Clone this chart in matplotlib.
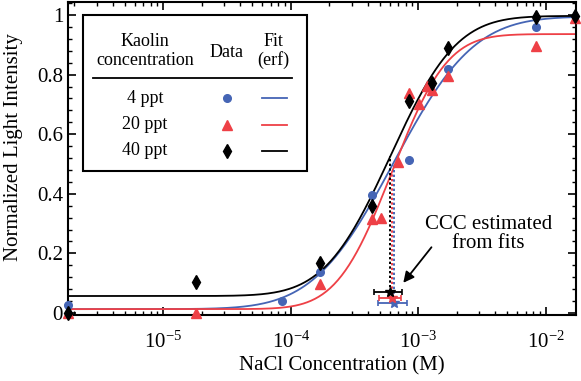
import math
import numpy as np
import matplotlib
matplotlib.use("Agg")
import matplotlib.pyplot as plt
from matplotlib.ticker import AutoMinorLocator, LogLocator
from matplotlib.patches import Rectangle
from matplotlib.lines import Line2D

plt.rcParams['font.family'] = ['Liberation Serif', 'DejaVu Serif']
plt.rcParams['mathtext.fontset'] = 'stix'

# data: NaCl concentration (M) vs normalized intensity
blue_x = [1.8e-6, 8.6e-5, 1.71e-4, 4.3e-4, 8.5e-4, 1.72e-3, 8.4e-3]
blue_y = [0.027, 0.041, 0.138, 0.396, 0.513, 0.819, 0.961]

red_x = [1.8e-6, 1.8e-5, 1.71e-4, 4.3e-4, 5.1e-4, 6.9e-4, 8.5e-4,
         1.02e-3, 1.18e-3, 1.29e-3, 1.72e-3, 8.4e-3, 1.7e-2]
red_y = [0.0, 0.0, 0.097, 0.314, 0.319, 0.508, 0.738,
         0.70, 0.762, 0.748, 0.795, 0.897, 0.99]

black_x = [1.8e-6, 1.8e-5, 1.71e-4, 4.3e-4, 8.5e-4, 1.29e-3, 1.72e-3, 8.4e-3, 1.7e-2]
black_y = [0.0, 0.104, 0.168, 0.359, 0.711, 0.773, 0.888, 0.994, 0.997]

# erf fit parameters (low plateau, high plateau, CCC, width in decades)
fit_lo = [0.013, 0.013, 0.057]
fit_hi = [0.995, 0.936, 0.997]
ccc = [6.4e-4, 6.23e-4, 6.05e-4]
fit_w = [0.70, 0.48, 0.575]

# CCC error bars and marker heights
ccc_err_lo = [4.81e-4, 4.96e-4, 4.53e-4]
ccc_err_hi = [8.17e-4, 7.33e-4, 7.46e-4]
ccc_y = [0.033, 0.051, 0.072]

labels = ['4 ppt', '20 ppt', '40 ppt']
colors = ['#4565b5', '#ee4046', 'black']
markers = ['o', '^', 'd']
msizes = [5.5, 7, 7.5]
xs = [blue_x, red_x, black_x]
ys = [blue_y, red_y, black_y]


def erf_fit(x, lo, hi, c, w):
    z = (np.log10(x) - math.log10(c)) / w
    return lo + (hi - lo) * 0.5 * (1 + np.array([math.erf(v) for v in np.atleast_1d(z)]))


fig = plt.figure(figsize=(5.81, 3.81), dpi=100)
ax = fig.add_axes([0.117, 0.173, 0.874, 0.822])

xx = np.logspace(np.log10(1.79e-6), np.log10(1.72e-2), 400)
for i in range(3):
    ax.plot(xx, erf_fit(xx, fit_lo[i], fit_hi[i], ccc[i], fit_w[i]),
            color=colors[i], lw=1.3, zorder=2)

for i in range(3):
    ax.plot(xs[i], ys[i], linestyle='none', marker=markers[i], ms=msizes[i],
            color=colors[i], clip_on=False, zorder=3)

# dotted lines from CCC markers up to the fit, then the CCC points
for i in [0, 1, 2]:
    top = erf_fit(ccc[i], fit_lo[i], fit_hi[i], ccc[i], fit_w[i])[0]
    ax.plot([ccc[i], ccc[i]], [ccc_y[i], top], color=colors[i], ls=(0, (1.2, 1.2)),
            lw=1.4, zorder=2)
for i in range(3):
    ax.errorbar([ccc[i]], [ccc_y[i]],
                xerr=[[ccc[i] - ccc_err_lo[i]], [ccc_err_hi[i] - ccc[i]]],
                fmt='*', ms=7, color=colors[i], ecolor=colors[i], elinewidth=1.3,
                capsize=2.5, capthick=1.2, zorder=4)

ax.annotate('', xy=(7.4e-4, 0.094), xytext=(1.31e-3, 0.228),
            arrowprops=dict(arrowstyle='-|>', color='k', lw=1.3, mutation_scale=16))
ax.text(3.55e-3, 0.265, 'CCC estimated\nfrom fits', ha='center', va='center',
        fontsize=15, linespacing=1.05)

ax.set_xscale('log')
ax.set_xlim(1.79e-6, 1.72e-2)
ax.set_ylim(-0.007, 1.044)
ax.set_yticks([0, 0.2, 0.4, 0.6, 0.8, 1.0])
ax.set_yticklabels(['0', '0.2', '0.4', '0.6', '0.8', '1'])
ax.set_xticks([1e-5, 1e-4, 1e-3, 1e-2])
ax.xaxis.set_minor_locator(LogLocator(base=10, subs=np.arange(2, 10)))
ax.yaxis.set_minor_locator(AutoMinorLocator(5))
ax.tick_params(which='both', direction='in', top=True, right=True, labelsize=15)
ax.tick_params(which='major', length=6, width=1.2)
ax.tick_params(which='minor', length=3, width=1.0)
ax.tick_params(axis='x', pad=12)
for s in ax.spines.values():
    s.set_linewidth(1.5)

ax.set_xlabel('NaCl Concentration (M)', fontsize=15)
ax.xaxis.set_label_coords(0.54, -0.13)
ax.set_ylabel('Normalized Light Intensity', fontsize=15)
ax.yaxis.set_label_coords(-0.088, 0.535)

# table-style legend
ax.add_patch(Rectangle((0.029, 0.46), 0.441, 0.498, transform=ax.transAxes,
                       facecolor='white', edgecolor='black', lw=1.5, zorder=5))
ax.add_line(Line2D([0.049, 0.441], [0.757, 0.757], transform=ax.transAxes,
                   color='black', lw=1.3, zorder=6))
ax.text(0.152, 0.843, 'Kaolin\nconcentration', transform=ax.transAxes, ha='center',
        va='center', fontsize=13, linespacing=1.1, zorder=6)
ax.text(0.313, 0.84, 'Data', transform=ax.transAxes, ha='center', va='center',
        fontsize=13, zorder=6)
ax.text(0.404, 0.843, 'Fit\n(erf)', transform=ax.transAxes, ha='center', va='center',
        fontsize=13, linespacing=1.1, zorder=6)
row_y = [0.693, 0.607, 0.524]
for i in range(3):
    ax.text(0.152, row_y[i], labels[i], transform=ax.transAxes, ha='center',
            va='center', fontsize=13, zorder=6)
    ax.plot([0.313], [row_y[i]], marker=markers[i], ms=msizes[i], color=colors[i],
            transform=ax.transAxes, zorder=6)
    ax.plot([0.382, 0.431], [row_y[i], row_y[i]], color=colors[i], lw=1.3,
            transform=ax.transAxes, zorder=6)

fig.savefig('out.png', dpi=100)
